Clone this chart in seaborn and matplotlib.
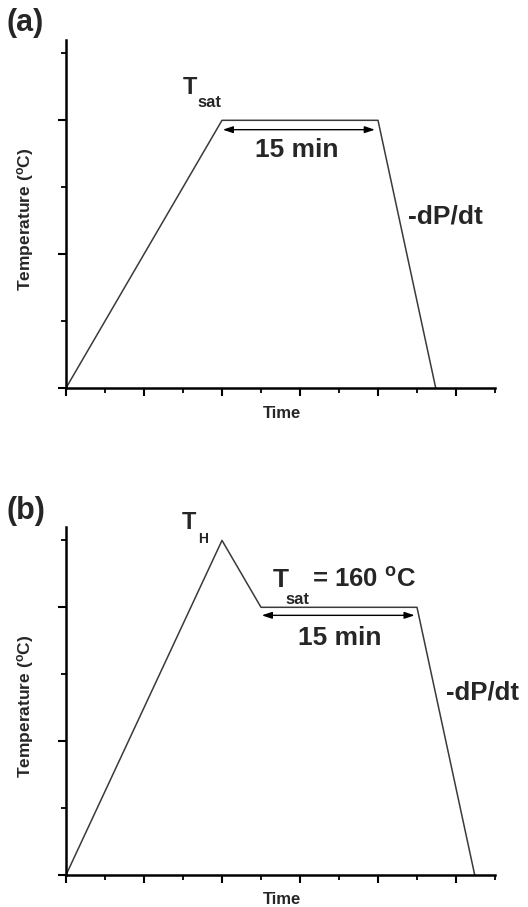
import matplotlib
matplotlib.use("Agg")
import matplotlib.pyplot as plt
from matplotlib.ticker import MultipleLocator
import pandas as pd
import seaborn as sns

# Temperature programs (arbitrary units: time in major ticks, temperature in major ticks)
time_a = [0.0, 2.0, 4.0, 4.74]
temp_a = [0.0, 2.0, 2.0, 0.0]

time_b = [0.0, 2.0, 2.5, 4.5, 5.24]
temp_b = [0.0, 2.5, 2.0, 2.0, 0.0]

# Holding-time arrows (start, end, height)
hold_a = (2.01, 3.96, 1.93)
hold_b = (2.51, 4.47, 1.94)

sns.set_theme(style="ticks")
plt.rcParams["font.family"] = ["Liberation Sans", "DejaVu Sans"]
plt.rcParams["font.weight"] = "bold"
plt.rcParams["mathtext.fontset"] = "custom"
plt.rcParams["mathtext.rm"] = "Liberation Sans:bold"
plt.rcParams["mathtext.it"] = "Liberation Sans:bold"
plt.rcParams["mathtext.bf"] = "Liberation Sans:bold"

W, H = 528, 907
fig = plt.figure(figsize=(W / 100, H / 100), dpi=100)

def px_axes(left, right, top, bottom):
    return fig.add_axes([left / W, 1 - bottom / H, (right - left) / W, (bottom - top) / H])

ax_a = px_axes(66, 495, 40, 388)
ax_b = px_axes(66, 495, 527, 875)

line_color = "#3a3a3a"

def style_axis(ax, label_y):
    ax.set_xlim(0, 5.5)
    ax.set_ylim(0, 2.6)
    ax.xaxis.set_major_locator(MultipleLocator(1))
    ax.xaxis.set_minor_locator(MultipleLocator(0.5))
    ax.yaxis.set_major_locator(MultipleLocator(1))
    ax.yaxis.set_minor_locator(MultipleLocator(0.5))
    ax.tick_params(which="major", direction="out", length=6, width=1.5, color="black",
                   labelbottom=False, labelleft=False)
    ax.tick_params(which="minor", direction="out", length=3.5, width=1.3, color="black")
    sns.despine(ax=ax)
    for s in ("left", "bottom"):
        ax.spines[s].set_linewidth(1.8)
        ax.spines[s].set_color("black")
    ax.set_xlabel("Time", fontsize=12, fontweight="bold", va="center")
    ax.xaxis.set_label_coords((282 - 66) / 429, label_y)
    ax.set_ylabel("Temperature ($^{o}$C)", fontsize=12.5, fontweight="bold", va="center")
    ax.yaxis.set_label_coords((26 - 66) / 429, 0.485)

def hold_arrow(ax, hold):
    x0, x1, y = hold
    ax.annotate("", xy=(x1, y), xytext=(x0, y),
                arrowprops=dict(arrowstyle="<|-|>,head_length=0.6,head_width=0.2",
                                color="black", lw=1.0, shrinkA=0, shrinkB=0,
                                mutation_scale=10))

# Panel (a)
df_a = pd.DataFrame({"Time": time_a, "Temperature": temp_a})
sns.lineplot(data=df_a, x="Time", y="Temperature", ax=ax_a, sort=False,
             estimator=None, color=line_color, lw=1.1)
style_axis(ax_a, (388 - 413) / 348)
hold_arrow(ax_a, hold_a)
ax_a.text(1.50, 2.194, "T", fontsize=17, fontweight="bold", ha="left", va="baseline")
ax_a.text(1.685, 2.097, "sat", fontsize=12, fontweight="bold", ha="left", va="baseline")
ax_a.text(2.96, 1.776, "15 min", fontsize=19, fontweight="bold", ha="center", va="center")
ax_a.text(4.385, 1.284, "-dP/dt", fontsize=19, fontweight="bold", ha="left", va="center")

# Panel (b)
df_b = pd.DataFrame({"Time": time_b, "Temperature": temp_b})
sns.lineplot(data=df_b, x="Time", y="Temperature", ax=ax_b, sort=False,
             estimator=None, color=line_color, lw=1.1)
style_axis(ax_b, (875 - 900) / 348)
hold_arrow(ax_b, hold_b)
ax_b.text(1.487, 2.586, "T", fontsize=17, fontweight="bold", ha="left", va="baseline", clip_on=False)
ax_b.text(1.69, 2.48, "H", fontsize=10, fontweight="bold", ha="left", va="baseline")
ax_b.text(2.654, 2.152, "T", fontsize=19, fontweight="bold", ha="left", va="baseline")
ax_b.text(2.81, 2.025, "sat", fontsize=12, fontweight="bold", ha="left", va="baseline")
ax_b.text(3.154, 2.152, "= 160 $^{o}$C", fontsize=18.5, fontweight="bold", ha="left", va="baseline")
ax_b.text(3.51, 1.771, "15 min", fontsize=19, fontweight="bold", ha="center", va="center")
ax_b.text(4.87, 1.36, "-dP/dt", fontsize=18.5, fontweight="bold", ha="left", va="center", clip_on=False)

# Panel letters
fig.text(6 / W, 1 - 23.5 / H, "(a)", fontsize=22, fontweight="bold", ha="left", va="center")
fig.text(6 / W, 1 - 511 / H, "(b)", fontsize=22, fontweight="bold", ha="left", va="center")

fig.savefig("out.png", dpi=100)
